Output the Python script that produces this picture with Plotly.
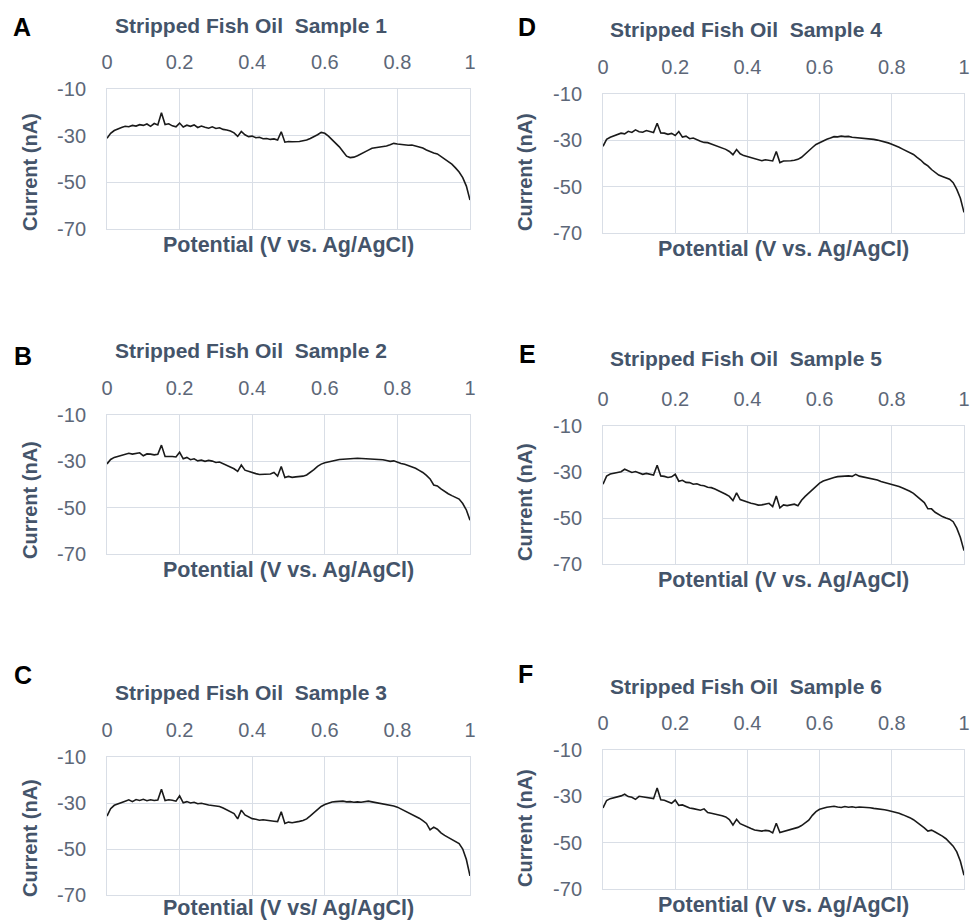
import plotly.graph_objects as go

# Potential sweep (V vs. Ag/AgCl), sampled every 0.01 V
potential = [round(i * 0.01, 2) for i in range(101)]

sample_1 = [-31.1, -29.0, -27.8, -27.0, -26.5, -26.0, -26.2, -25.6, -25.9, -25.3,
            -25.6, -25.0, -26.0, -24.8, -25.4, -20.2, -25.2, -24.9, -25.8, -26.2,
            -24.6, -26.3, -25.5, -26.0, -25.4, -26.5, -25.9, -26.4, -26.8, -26.2,
            -26.9, -26.6, -27.3, -27.6, -28.0, -28.8, -30.3, -28.2, -29.6, -30.4,
            -30.2, -30.9, -30.7, -31.3, -31.2, -31.6, -31.4, -31.9, -28.3, -32.8,
            -32.5, -32.6, -32.6, -32.5, -32.2, -31.9, -31.2, -30.5, -29.6, -28.6,
            -29.0, -30.2, -31.6, -33.2, -34.8, -36.8, -38.8, -39.4, -39.2, -38.6,
            -37.9, -36.9, -36.2, -35.4, -35.2, -34.8, -34.9, -34.4, -33.9, -33.3,
            -33.6, -33.8, -33.7, -34.1, -34.0, -34.4, -34.7, -35.3, -36.1, -36.8,
            -37.4, -37.8, -38.9, -40.0, -41.0, -42.2, -43.8, -45.6, -48.0, -51.6,
            -57.6]

sample_2 = [-31.1, -29.2, -28.3, -27.8, -27.2, -26.7, -26.5, -26.9, -26.6, -26.3,
            -27.6, -26.8, -26.9, -27.2, -27.0, -23.0, -27.9, -27.8, -27.9, -28.1,
            -26.1, -28.9, -28.3, -29.3, -28.9, -29.8, -29.5, -30.0, -29.6, -29.9,
            -30.5, -30.3, -31.0, -31.5, -32.3, -33.2, -34.3, -31.6, -33.8, -34.4,
            -34.9, -35.3, -35.7, -35.6, -35.8, -35.5, -34.8, -36.4, -32.2, -37.0,
            -36.5, -36.9, -36.7, -36.6, -36.4, -35.9, -34.9, -33.6, -32.2, -31.2,
            -30.6, -30.2, -29.8, -29.5, -29.2, -29.1, -28.9, -29.0, -28.8, -28.7,
            -28.8, -28.6, -28.9, -28.8, -28.9, -29.0, -29.3, -29.6, -30.0, -29.8,
            -30.5, -30.9, -31.3, -31.8, -32.4, -33.0, -33.9, -34.8, -36.1, -37.6,
            -40.2, -40.6, -41.9, -43.0, -44.0, -44.8, -45.4, -46.3, -48.2, -51.0,
            -55.4]

sample_3 = [-35.7, -32.5, -31.0, -30.3, -29.9, -29.2, -28.6, -29.4, -28.5, -28.9,
            -28.4, -29.0, -28.6, -28.9, -28.7, -24.0, -28.9, -28.6, -28.8, -29.2,
            -26.9, -29.9, -29.4, -30.0, -29.7, -30.3, -30.1, -30.6, -30.9, -31.1,
            -31.3, -31.5, -32.2, -32.9, -33.6, -34.6, -36.9, -33.1, -35.2, -36.0,
            -36.8, -37.1, -37.5, -37.3, -37.6, -37.7, -37.9, -38.1, -33.8, -38.9,
            -38.3, -38.6, -38.4, -38.0, -37.6, -36.9, -35.6, -34.2, -32.6, -31.5,
            -30.7, -30.0, -29.6, -29.4, -29.3, -29.2, -29.5, -29.4, -29.7, -29.5,
            -29.7, -29.6, -29.2, -29.5, -29.8, -30.0, -30.2, -30.5, -30.9, -31.3,
            -31.8, -32.6, -33.2, -34.0, -34.8, -35.6, -36.6, -37.7, -38.9, -41.7,
            -40.5, -41.4, -43.0, -44.1, -45.0, -45.7, -46.6, -47.6, -50.0, -54.6,
            -61.7]

sample_4 = [-32.6, -29.6, -28.7, -28.1, -27.6, -26.9, -27.2, -26.1, -26.6, -25.5,
            -26.3, -26.5, -25.8, -26.3, -26.6, -22.6, -26.8, -26.9, -27.4, -27.0,
            -27.9, -26.2, -28.6, -28.2, -29.3, -29.0, -29.8, -30.4, -30.9, -31.0,
            -31.6, -32.1, -32.6, -33.1, -33.9, -34.8, -36.2, -34.0, -35.8, -36.6,
            -37.0, -37.5, -38.1, -38.3, -38.8, -38.4, -38.6, -38.9, -34.8, -39.6,
            -38.9, -39.0, -38.8, -38.6, -38.2, -37.3, -35.8, -34.3, -33.1, -31.8,
            -31.0, -30.2, -29.5, -29.0, -28.4, -28.5, -28.2, -28.4, -28.3, -28.7,
            -28.8, -28.9, -29.1, -29.2, -29.5, -29.6, -29.9, -30.2, -30.7, -31.1,
            -31.7, -32.2, -33.0, -33.8, -34.6, -35.3, -36.1, -37.4, -38.5, -40.0,
            -41.0, -42.6, -43.8, -45.0, -45.6, -46.1, -46.8, -48.3, -51.2, -55.0,
            -61.1]

sample_5 = [-35.3, -31.8, -30.9, -30.5, -30.3, -29.9, -28.8, -29.4, -30.2, -29.8,
            -30.4, -31.0, -30.6, -31.0, -31.3, -27.1, -31.7, -31.9, -32.4, -32.1,
            -31.0, -34.0, -33.6, -34.5, -34.6, -35.3, -35.1, -35.8, -36.0, -36.6,
            -36.8, -37.4, -38.0, -38.9, -39.7, -40.6, -42.4, -39.1, -42.0, -42.6,
            -43.3, -43.6, -43.9, -44.4, -44.3, -44.0, -43.6, -45.0, -40.4, -45.6,
            -44.3, -44.6, -44.2, -44.0, -44.7, -42.3, -40.6, -39.1, -37.6, -36.1,
            -34.8, -33.9, -33.3, -32.8, -32.4, -32.0, -31.8, -31.9, -31.7, -31.9,
            -31.0, -31.8, -32.1, -32.4, -32.8, -33.1, -33.5, -34.1, -34.5, -34.9,
            -35.3, -35.9, -36.3, -37.0, -37.6, -38.4, -39.3, -40.6, -41.6, -43.3,
            -46.0, -46.0, -47.5, -48.6, -49.4, -50.0, -50.5, -51.6, -54.4, -58.5,
            -64.2]

sample_6 = [-35.0, -31.8, -31.0, -30.7, -30.2, -29.8, -29.1, -30.1, -30.4, -31.3,
            -30.0, -30.2, -30.5, -30.8, -31.0, -26.4, -31.5, -31.7, -32.4, -33.0,
            -31.6, -33.9, -33.7, -34.4, -35.0, -35.3, -35.8, -36.0, -35.4, -37.0,
            -37.3, -37.6, -37.9, -38.4, -38.9, -40.0, -42.4, -39.9, -41.8, -42.6,
            -43.4, -43.9, -44.5, -44.8, -45.0, -44.7, -44.9, -45.8, -41.6, -45.6,
            -45.2, -44.8, -44.4, -43.9, -43.4, -42.6, -41.6, -40.3, -38.2, -36.6,
            -35.6, -35.1, -34.7, -34.5, -34.3, -34.6, -34.8, -34.4, -34.7, -34.5,
            -34.8, -34.6, -34.7, -34.5, -34.9, -35.2, -35.3, -35.5, -35.8, -36.1,
            -36.4, -36.9, -37.3, -37.9, -38.5, -39.2, -40.1, -41.2, -42.4, -43.6,
            -45.0, -44.6, -45.4, -46.2, -47.2, -48.3, -49.8, -51.5, -54.0, -58.0,
            -64.1]

panel_letters = ["A", "B", "C", "D", "E", "F"]
panel_titles = ["Stripped Fish Oil\u00a0 Sample 1", "Stripped Fish Oil\u00a0 Sample 2",
                "Stripped Fish Oil\u00a0 Sample 3", "Stripped Fish Oil\u00a0 Sample 4",
                "Stripped Fish Oil\u00a0 Sample 5", "Stripped Fish Oil\u00a0 Sample 6"]
x_titles = ["Potential (V vs. Ag/AgCl)", "Potential (V vs. Ag/AgCl)",
            "Potential (V vs/ Ag/AgCl)", "Potential (V vs. Ag/AgCl)",
            "Potential (V vs. Ag/AgCl)", "Potential (V vs. Ag/AgCl)"]
y_title = "Current (nA)"
x_tick_vals = [0, 0.2, 0.4, 0.6, 0.8, 1]
x_tick_text = ["0", "0.2", "0.4", "0.6", "0.8", "1"]
y_tick_vals = [-10, -30, -50, -70]
y_tick_text = ["-10", "-30", "-50", "-70"]
series = [sample_1, sample_2, sample_3, sample_4, sample_5, sample_6]

# ---- layout geometry (pixels) ----
W, H = 971, 921
# plot boxes: (left, right, top, bottom)
boxes = [(107, 470, 89, 229), (107, 470, 415, 554), (107, 470, 757, 895),
         (603, 964, 94, 233), (603, 964, 426, 564), (603, 964, 750, 889)]
title_y = [25, 351, 692, 29, 359, 686]
xtitle_y = [245, 570, 908, 249, 580, 905]
letter_pos = [(22, 27), (23, 356), (23, 675), (527, 27), (527, 354), (525, 674)]
ytitle_pos = [(30, 172), (30, 500), (30, 838), (525, 172), (525, 502), (525, 828)]

FONT = "Liberation Sans, Arial, sans-serif"
TITLE_COLOR = "#44546a"
TICK_COLOR = "#5d6778"
GRID = "#d9dee6"

def px(x):
    return x / W

def py(y):
    return 1 - y / H

fig = go.Figure()
annotations = []
for i in range(6):
    n = "" if i == 0 else str(i + 1)
    l, r, t, b = boxes[i]
    fig.add_trace(go.Scatter(x=potential, y=series[i], mode="lines",
                             line=dict(color="#1a1a1a", width=1.6),
                             xaxis="x" + n, yaxis="y" + n, showlegend=False,
                             hoverinfo="skip"))
    fig.layout["xaxis" + n] = dict(
        domain=[px(l), px(r)], anchor="y" + n, side="top", range=[0, 1],
        automargin=False,
        tickvals=x_tick_vals, ticktext=x_tick_text, ticks="outside", ticklen=11,
        tickcolor="rgba(0,0,0,0)", tickfont=dict(family=FONT, size=20, color=TICK_COLOR),
        showgrid=True, gridcolor=GRID, gridwidth=1, zeroline=False,
        showline=True, mirror=True, linecolor=GRID, linewidth=1, fixedrange=True)
    fig.layout["yaxis" + n] = dict(
        domain=[py(b), py(t)], anchor="x" + n, range=[-70, -10],
        automargin=False,
        tickvals=y_tick_vals, ticktext=y_tick_text, ticks="outside", ticklen=16,
        tickcolor="rgba(0,0,0,0)", tickfont=dict(family=FONT, size=20, color=TICK_COLOR),
        showgrid=True, gridcolor=GRID, gridwidth=1, zeroline=False,
        showline=True, mirror=True, linecolor=GRID, linewidth=1, fixedrange=True)
    cx = (l + r) / 2
    annotations.append(dict(text="<b>" + panel_titles[i] + "</b>", x=px(cx - 38), y=py(title_y[i]),
                            xref="paper", yref="paper", xanchor="center", yanchor="middle",
                            showarrow=False, font=dict(family=FONT, size=21, color=TITLE_COLOR)))
    annotations.append(dict(text="<b>" + x_titles[i] + "</b>", x=px(cx), y=py(xtitle_y[i]),
                            xref="paper", yref="paper", xanchor="center", yanchor="middle",
                            showarrow=False, font=dict(family=FONT, size=21.5, color=TITLE_COLOR)))
    annotations.append(dict(text="<b>" + y_title + "</b>", x=px(ytitle_pos[i][0]), y=py(ytitle_pos[i][1]),
                            xref="paper", yref="paper", xanchor="center", yanchor="middle",
                            textangle=-90, showarrow=False,
                            font=dict(family=FONT, size=20, color=TITLE_COLOR)))
    annotations.append(dict(text="<b>" + panel_letters[i] + "</b>", x=px(letter_pos[i][0]), y=py(letter_pos[i][1]),
                            xref="paper", yref="paper", xanchor="center", yanchor="middle",
                            showarrow=False, font=dict(family=FONT, size=25, color="#000000")))

fig.update_layout(width=W, height=H, margin=dict(l=0, r=0, t=0, b=0, autoexpand=False),
                  paper_bgcolor="white", plot_bgcolor="white",
                  annotations=annotations, showlegend=False)

fig.write_html("out.html", config={"displayModeBar": False},
               post_script="document.body.style.margin='0';document.body.style.overflow='hidden';")
